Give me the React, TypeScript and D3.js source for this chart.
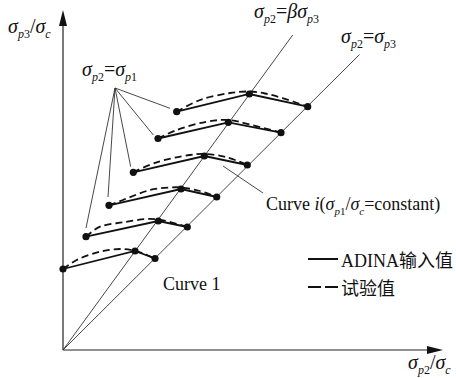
import React from "react";
import * as d3 from "d3";

// Model curves (ADINA input): start on the σp2=σp1 locus, pass the σp2=βσp3 line, end on σp2=σp3
const adinaCurves: [number, number][][] = [
  [[0, 0.81], [0.72, 0.99], [0.92, 0.915]],
  [[0.23, 1.133], [0.953, 1.29], [1.243, 1.23]],
  [[0.46, 1.447], [1.18, 1.61], [1.537, 1.53]],
  [[0.703, 1.777], [1.413, 1.94], [1.843, 1.85]],
  [[0.95, 2.115], [1.653, 2.277], [2.18, 2.173]],
  [[1.137, 2.383], [1.863, 2.56], [2.447, 2.433]],
];

// Test curves (试验值)
const testCurves: [number, number][][] = [
  [[0, 0.81], [0.137, 0.9], [0.37, 0.983], [0.57, 1.01], [0.72, 0.993], [0.83, 0.955], [0.92, 0.913]],
  [[0.23, 1.133], [0.37, 1.233], [0.603, 1.277], [0.837, 1.31], [0.953, 1.305], [1.09, 1.275], [1.243, 1.23]],
  [[0.46, 1.447], [0.6, 1.5], [0.87, 1.6], [1.07, 1.625], [1.18, 1.625], [1.37, 1.59], [1.537, 1.53]],
  [[0.703, 1.777], [0.937, 1.877], [1.27, 1.95], [1.413, 1.96], [1.63, 1.93], [1.843, 1.85]],
  [[0.95, 2.115], [1.137, 2.2], [1.437, 2.283], [1.653, 2.3], [1.87, 2.255], [2.18, 2.173]],
  [[1.137, 2.383], [1.37, 2.5], [1.67, 2.57], [1.863, 2.585], [2.02, 2.565], [2.203, 2.517], [2.447, 2.433]],
];

// Stress-path reference lines from the origin
const betaLineEnd: [number, number] = [2.297, 3.15];
const equalLineEnd: [number, number] = [2.965, 2.955];

// Leader lines from the "σp2=σp1" label to the curve starts
const leaderHub: [number, number] = [0.52, 2.62];
const leaderEnds: [number, number][] = [
  [1.07, 2.417],
  [0.903, 2.15],
  [0.677, 1.833],
  [0.45, 1.53],
  [0.23, 1.22],
];
const curveILeader: [number, number][] = [[1.6, 1.84], [2.0, 1.57]];

const legendItems = [
  { label: "ADINA输入值", dashed: false },
  { label: "试验值", dashed: true },
];

const W = 456;
const H = 378;
const serif = "'Liberation Serif', 'Times New Roman', 'Noto Sans CJK SC', serif";

const x = d3.scaleLinear().domain([0, 3.8]).range([63, 443]);
const y = d3.scaleLinear().domain([0, 3.4]).range([350, 10]);

const straight = d3
  .line<[number, number]>()
  .x((d) => x(d[0]))
  .y((d) => y(d[1]));
const smooth = d3
  .line<[number, number]>()
  .x((d) => x(d[0]))
  .y((d) => y(d[1]))
  .curve(d3.curveCatmullRom.alpha(0.5));

// Text run: [text, italic, subscript]
type Seg = [string, boolean, boolean];

// σ with a subscript like "p3": italic p, upright digit
const sig = (sub: string): Seg[] => {
  const out: Seg[] = [["σ", true, false], [sub[0], true, true]];
  if (sub.length > 1) out.push([sub.slice(1), false, true]);
  return out;
};

function Rich({ x0, y0, size, segs }: { x0: number; y0: number; size: number; segs: Seg[] }) {
  const s = Math.round(size * 0.6);
  const shift = Math.round(size * 0.27);
  let lowered = false;
  return (
    <text x={x0} y={y0} fill="#111" fontSize={size}>
      {segs.map(([t, it, sub], i) => {
        let dy = 0;
        if (sub && !lowered) dy = shift;
        if (!sub && lowered) dy = -shift;
        lowered = sub;
        return (
          <tspan key={i} fontSize={sub ? s : size} fontStyle={it ? "italic" : "normal"} dy={dy || undefined}>
            {t}
          </tspan>
        );
      })}
    </text>
  );
}

export default function App() {
  const ox = x(0);
  const oy = y(0);
  return (
    <svg
      width={W}
      height={H}
      viewBox={`0 0 ${W} ${H}`}
      style={{ position: "absolute", left: 0, top: 0, background: "#fff" }}
      fontFamily={serif}
    >
      {/* axes */}
      <line x1={ox} y1={oy} x2={x(3.66)} y2={oy} stroke="#222" strokeWidth={1.2} />
      <line x1={ox} y1={oy} x2={ox} y2={y(3.26)} stroke="#222" strokeWidth={1.2} />
      <path d={`M${x(3.8)},${oy} L${x(3.64)},${oy - 4} L${x(3.64)},${oy + 4} Z`} fill="#111" />
      <path d={`M${ox},${y(3.4)} L${ox - 4},${y(3.24)} L${ox + 4},${y(3.24)} Z`} fill="#111" />

      {/* reference lines */}
      <path d={straight([[0, 0], betaLineEnd])!} stroke="#333" strokeWidth={0.9} fill="none" />
      <path d={straight([[0, 0], equalLineEnd])!} stroke="#333" strokeWidth={0.9} fill="none" />

      {/* leaders */}
      {leaderEnds.map((e, i) => (
        <path key={i} d={straight([leaderHub, e])!} stroke="#333" strokeWidth={0.9} fill="none" />
      ))}
      <path d={straight(curveILeader)!} stroke="#333" strokeWidth={0.9} fill="none" />

      {/* test curves */}
      {testCurves.map((c, i) => (
        <path key={i} d={smooth(c)!} stroke="#111" strokeWidth={1.8} strokeDasharray="7 4" fill="none" />
      ))}
      {/* ADINA curves */}
      {adinaCurves.map((c, i) => (
        <g key={i}>
          <path d={straight(c)!} stroke="#111" strokeWidth={1.8} fill="none" />
          {c.map((p, j) => (
            <circle key={j} cx={x(p[0])} cy={y(p[1])} r={3.6} fill="#111" />
          ))}
        </g>
      ))}

      {/* axis titles */}
      <Rich x0={8} y0={33} size={20} segs={[...sig("p3"), ["/", false, false], ...sig("c")]} />
      <Rich x0={408} y0={369} size={20} segs={[...sig("p2"), ["/", false, false], ...sig("c")]} />

      {/* line labels */}
      <Rich x0={82} y0={76} size={20} segs={[...sig("p2"), ["=", false, false], ...sig("p1")]} />
      <Rich
        x0={254}
        y0={18}
        size={20}
        segs={[...sig("p2"), ["=", false, false], ["β", true, false], ...sig("p3")]}
      />
      <Rich x0={341} y0={43} size={20} segs={[...sig("p2"), ["=", false, false], ...sig("p3")]} />

      <Rich
        x0={266}
        y0={210}
        size={18}
        segs={[
          ["Curve ", false, false],
          ["i", true, false],
          ["(", false, false],
          ...sig("p1"),
          ["/", false, false],
          ...sig("c"),
          ["=constant)", false, false],
        ]}
      />
      <text x={163} y={290} fill="#111" fontSize={18}>Curve 1</text>

      {/* legend */}
      {legendItems.map((it, i) => (
        <g key={i} transform={`translate(308, ${259 + i * 28})`}>
          <line
            x1={0}
            x2={30}
            y1={0}
            y2={0}
            stroke="#111"
            strokeWidth={2}
            strokeDasharray={it.dashed ? "13 4" : undefined}
          />
          <text x={33} y={8} fontSize={18} fill="#111">{it.label}</text>
        </g>
      ))}
    </svg>
  );
}
